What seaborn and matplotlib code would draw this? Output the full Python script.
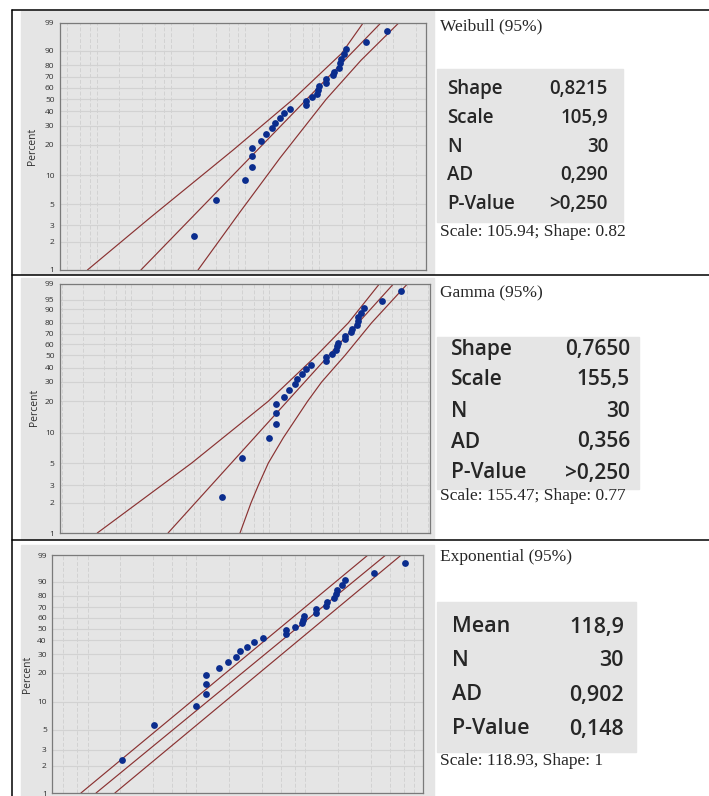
import numpy as np
import matplotlib
matplotlib.use("Agg")
import matplotlib.pyplot as plt
from matplotlib.patches import Rectangle
from matplotlib.lines import Line2D
from matplotlib.ticker import LogLocator, NullFormatter
import seaborn as sns
from math import lgamma

# --- values ---
percent = [2.3, 5.6, 8.9, 12.2, 15.5, 18.8, 22.0, 25.3, 28.6, 31.9, 35.2, 38.5, 41.8, 45.1, 48.4,
           51.6, 54.9, 58.2, 61.5, 64.8, 68.1, 71.4, 74.7, 78.0, 81.3, 84.5, 87.8, 91.1, 94.4, 97.7]
times = [2.05, 4.05, 10.0, 12.3, 12.3, 12.3, 16.2, 19.3, 23.2, 25.2, 29.3, 33.5, 40.8, 65.8, 65.8,
         80.0, 92.7, 95.0, 98.0, 124.0, 124.0, 155.0, 157.0, 185.0, 191.0, 195.0, 215.0, 232.0, 430.0, 820.0]

pct_ticks = [1, 2, 3, 5, 10, 20, 30, 40, 50, 60, 70, 80, 90, 99]
pct_ticks_gamma = [1, 2, 3, 5, 10, 20, 30, 40, 50, 60, 70, 80, 90, 95, 99]

weib_shape, weib_scale = 0.8215, 105.94
gamma_shape, gamma_scale = 0.765, 155.47
exp_mean = 118.93

# 95% confidence bands (percent level, x value)
weib_up_p = [1, 3.6, 17.8, 50, 88.4, 99]
weib_up_x = [0.0745, 0.521, 6.85, 44.5, 200, 392]
weib_lo_p = [1, 4, 14.9, 50, 83.8, 99]
weib_lo_x = [2.31, 8.24, 29.5, 124, 366, 1186]
gam_up_p = [1, 5, 20, 50, 80, 99]
gam_up_x = [0.0321, 0.749, 9.67, 48.5, 140, 393]
gam_lo_p = [1, 2, 3, 5, 8.9, 20, 30, 50, 80, 99]
gam_lo_x = [3.76, 5.42, 6.93, 9.67, 15.96, 35.9, 57.3, 125, 304, 1000]
exp_up_p = [1, 99]
exp_up_x = [0.869, 376]
exp_lo_p = [1, 99]
exp_lo_x = [1.78, 760]

weib_labels = ["Shape", "Scale", "N", "AD", "P-Value"]
weib_values = ["0,8215", "105,9", "30", "0,290", ">0,250"]
gamma_labels = ["Shape", "Scale", "N", "AD", "P-Value"]
gamma_values = ["0,7650", "155,5", "30", "0,356", ">0,250"]
exp_labels = ["Mean", "N", "AD", "P-Value"]
exp_values = ["118,9", "30", "0,902", "0,148"]

sns.set_style("white")
plt.rcParams['font.family'] = ['Open Sans', 'DejaVu Sans']

GREY = '#e5e5e5'
GRID = '#d2d2d2'
DOT = '#0b2d8e'
LINE = '#8a3232'
SERIF = ['Liberation Serif', 'DejaVu Serif']

W, H = 709, 796
fig = plt.figure(figsize=(W / 100, H / 100), dpi=100)


def fx(x):
    return x / W


def fy(y):
    return 1 - y / H


def rect(x0, y0, x1, y1):
    return [x0 / W, 1 - y1 / H, (x1 - x0) / W, (y1 - y0) / H]


def grey_box(x0, y0, x1, y1):
    fig.patches.append(Rectangle((fx(x0), fy(y1)), (x1 - x0) / W, (y1 - y0) / H,
                                 transform=fig.transFigure, color=GREY, zorder=-5))


def gamma_cdf(x, a):
    x = np.asarray(x, float)
    term = np.ones_like(x)
    total = np.ones_like(x)
    for i in range(1, 400):
        term = term * x / (a + i)
        total = total + term
    return np.exp(-x + a * np.log(x) - lgamma(a + 1)) * total


def gamma_ppf(p, a):
    p = np.asarray(p, float)
    lo = np.full_like(p, -40.0)
    hi = np.full_like(p, 4.0)
    for _ in range(80):
        mid = (lo + hi) / 2
        below = gamma_cdf(np.exp(mid), a) < p
        lo = np.where(below, mid, lo)
        hi = np.where(below, hi, mid)
    return np.exp((lo + hi) / 2)


def weib_y(p):
    p = np.asarray(p, float) / 100
    return np.log(-np.log(1 - p))


def gamma_y(p):
    return np.log(gamma_ppf(np.asarray(p, float) / 100, gamma_shape))


def panel(bg, box, yfun, ticks, xlim, fit_x, bands, lab_xy):
    grey_box(*bg)
    ax = fig.add_axes(rect(*box))
    ax.set_facecolor(GREY)
    ax.set_xscale('log')
    ax.set_xlim(*xlim)
    ax.set_ylim(yfun(1), yfun(99))
    ax.set_axisbelow(True)

    ax.xaxis.set_major_locator(LogLocator(base=10, numticks=20))
    ax.xaxis.set_minor_locator(LogLocator(base=10, subs=(2, 4, 6, 8), numticks=20))
    ax.xaxis.set_minor_formatter(NullFormatter())
    ax.set_yticks(yfun(ticks))
    ax.set_yticklabels([str(t) for t in ticks])
    ax.grid(axis='y', color=GRID, lw=0.8, ls='-')
    ax.grid(axis='x', which='both', color=GRID, lw=0.7, ls=(0, (4, 2)))

    ax.tick_params(axis='x', which='major', direction='out', length=3, width=0.6,
                   color='#555555', labelbottom=False)
    ax.tick_params(axis='x', which='minor', length=0)
    ax.tick_params(axis='y', direction='out', length=3, width=0.6, color='#555555',
                   labelsize=6, labelcolor='#303030', pad=1)
    for s in ax.spines.values():
        s.set_color('#7a7a7a')
        s.set_linewidth(0.9)

    # fitted line and confidence bands
    sns.lineplot(x=fit_x, y=yfun([1, 99]), ax=ax, color=LINE, lw=0.85, sort=False, estimator=None)
    for bp, bx in bands:
        sns.lineplot(x=bx, y=yfun(bp), ax=ax, color=LINE, lw=0.85, sort=False, estimator=None)
    sns.scatterplot(x=times, y=yfun(percent), ax=ax, color=DOT, s=24, linewidth=0, zorder=5)
    ax.set_xlabel('')
    ax.set_ylabel('')
    fig.text(fx(lab_xy[0]), fy(lab_xy[1]), 'Percent', rotation=90, ha='center', va='center',
             fontsize=7.5, color='#303030')
    return ax


def stats_cell(title, title_y, box, labels, values, rows_y, x_lab, x_val, size, footer, footer_y):
    fig.text(fx(440), fy(title_y), title, family=SERIF, fontsize=12.5, ha='left', va='center')
    grey_box(*box)
    for lab, val, yy in zip(labels, values, rows_y):
        fig.text(fx(x_lab), fy(yy), lab, fontsize=size, color='#262626', ha='left', va='center',
                 fontweight='semibold')
        fig.text(fx(x_val), fy(yy), val, fontsize=size, color='#262626', ha='right', va='center',
                 fontweight='semibold')
    fig.text(fx(440), fy(footer_y), footer, family=SERIF, fontsize=12.5, ha='left', va='center')


# Weibull
weib_fit = [weib_scale * (-np.log(1 - p / 100)) ** (1 / weib_shape) for p in (1, 99)]
panel((21, 11, 434, 274), (60, 22.7, 426, 270), weib_y, pct_ticks, (0.0318, 2744), weib_fit,
      [(weib_up_p, weib_up_x), (weib_lo_p, weib_lo_x)], (32, 146))
# Gamma
gam_fit = list(gamma_scale * gamma_ppf([0.01, 0.99], gamma_shape))
panel((21, 278, 434, 539), (60, 284, 430, 533), gamma_y, pct_ticks_gamma, (0.00925, 2132), gam_fit,
      [(gam_up_p, gam_up_x), (gam_lo_p, gam_lo_x)], (35, 407))
# Exponential
exp_fit = [exp_mean * (-np.log(1 - p / 100)) for p in (1, 99)]
panel((21, 545, 434, 796), (52.3, 555, 423, 793), weib_y, pct_ticks, (0.474, 1203), exp_fit,
      [(exp_up_p, exp_up_x), (exp_lo_p, exp_lo_x)], (27, 674))

stats_cell("Weibull (95%)", 26, (437, 69, 623, 222), weib_labels, weib_values,
           [89, 118, 147, 175, 204], 447, 608, 13.5, "Scale: 105.94; Shape: 0.82", 232)
stats_cell("Gamma (95%)", 293, (437, 337, 639, 489), gamma_labels, gamma_values,
           [349, 380, 411, 442, 473], 451, 630, 15, "Scale: 155.47; Shape: 0.77", 496)
stats_cell("Exponential (95%)", 557, (437, 602, 636, 752), exp_labels, exp_values,
           [627, 661, 695, 729], 452, 624, 15.5, "Scale: 118.93, Shape: 1", 761)

# table rules
for yy in (10, 275, 540):
    fig.add_artist(Line2D([fx(12), 1], [fy(yy), fy(yy)], color='black', lw=1.1, zorder=10))
fig.add_artist(Line2D([fx(12), fx(12)], [fy(10), 0], color='black', lw=1.1, zorder=10))

fig.savefig('out.png', dpi=100)
